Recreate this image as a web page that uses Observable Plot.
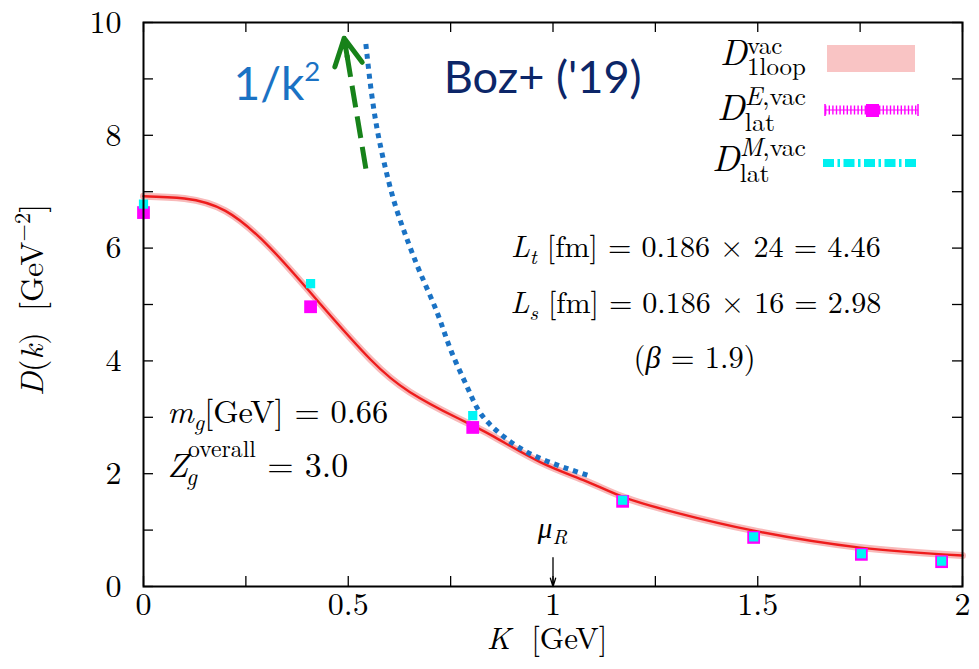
<!DOCTYPE html>
<html><head><meta charset="utf-8">
<script src="https://cdn.jsdelivr.net/npm/d3@7"></script>
<script src="https://cdn.jsdelivr.net/npm/@observablehq/plot@0.6"></script>
<style>
html,body{margin:0;padding:0;background:#fff;}
#chart{position:relative;width:979px;height:669px;}
#chart svg text{white-space:pre;font-family:'Latin Modern Roman','Liberation Serif',serif !important;}
#chart svg text.greek{font-family:'Liberation Serif',serif !important;}
#chart svg text.sans{font-family:'Lato','Open Sans',sans-serif !important;}
</style></head><body><div id="chart"></div>
<script>
// ---- data ----
const kTickLabels = [0, 0.5, 1, 1.5, 2];
const kTicks = [0, 0.25, 0.5, 0.75, 1, 1.25, 1.5, 1.75, 2];
const dTickLabels = [0, 2, 4, 6, 8, 10];
const dTicks = [0, 1, 2, 3, 4, 5, 6, 7, 8, 9, 10];

// lattice data (E = magenta, M = cyan)
const latK = [0.0, 0.408, 0.804, 1.17, 1.49, 1.753, 1.949];
const latE = [6.63, 4.96, 2.82, 1.51, 0.87, 0.57, 0.44];
const latEerr = [0.14, 0.05, 0.05, 0.03, 0.03, 0.02, 0.02];
const latM = [6.78, 5.37, 3.03, 1.53, 0.88, 0.58, 0.45];

// one-loop curve (red, with pink band)
const loopK = [0, 0.1, 0.2, 0.31, 0.433, 0.555, 0.65, 0.763, 0.85, 0.97, 1.08, 1.174, 1.3, 1.49, 1.75, 2.0];
const loopD = [6.92, 6.88, 6.66, 6.0, 5.0, 4.02, 3.45, 3.0, 2.68, 2.2, 1.87, 1.58, 1.31, 0.99, 0.69, 0.55];

// 1/k^2 dotted guide
const invK = [0.543, 0.555, 0.571, 0.592, 0.616, 0.645, 0.677, 0.718, 0.751, 0.791, 0.824, 0.881, 0.963, 1.085];
const invD = [9.62, 8.85, 8.09, 7.38, 6.73, 6.13, 5.54, 4.84, 4.18, 3.53, 3.06, 2.65, 2.29, 1.97];

// green dashed arrow (tail -> tip)
const arrowK = [0.543, 0.49];
const arrowD = [7.41, 9.72];

// renormalisation point marker
const muRK = [1.0];
const muRD = [0.51, 0.0];

// ---- build tables ----
const lat = latK.map((k, i) => ({k, e: latE[i], m: latM[i], lo: latE[i] - latEerr[i], hi: latE[i] + latEerr[i]}));
const loop = loopK.map((k, i) => ({k, d: loopD[i]}));
const inv = invK.map((k, i) => ({k, d: invD[i]}));
const greenArrow = [{x1: arrowK[0], y1: arrowD[0], x2: arrowK[1], y2: arrowD[1]}];
const muArrow = muRK.map(k => ({x1: k, y1: muRD[0], x2: k, y2: muRD[1]}));

const W = 979, H = 669, mL = 143, mR = 17, mT = 22, mB = 83;
const innerW = W - mL - mR, innerH = H - mT - mB;
const tickLen = 10;
const serif = "'Latin Modern Roman', 'Liberation Serif', serif";

const plot = Plot.plot({
  width: W, height: H,
  marginLeft: mL, marginRight: mR, marginTop: mT, marginBottom: mB,
  x: {domain: [0, 2], axis: null},
  y: {domain: [0, 10], axis: null},
  style: {fontFamily: serif, fontSize: "32px", background: "white", color: "black"},
  marks: [
    Plot.line(loop, {x: "k", y: "d", stroke: "#f8b9b9", strokeWidth: 7, curve: "natural"}),
    Plot.line(loop, {x: "k", y: "d", stroke: "#ee1c1c", strokeWidth: 2.4, curve: "natural"}),
    Plot.line(inv, {x: "k", y: "d", stroke: "#1a72c4", strokeWidth: 5, strokeDasharray: "5,5", strokeLinecap: "butt", curve: "natural"}),
    Plot.ruleX(lat, {x: "k", y1: "lo", y2: "hi", stroke: "#ff00ff", strokeWidth: 1.5}),
    Plot.dot(lat, {x: "k", y: "e", symbol: "square", r: 7.2, fill: "#ff00ff", stroke: "none"}),
    Plot.dot(lat, {x: "k", y: "m", symbol: "square", r: 5.2, fill: "#00f5f5", stroke: "none"}),
    Plot.link(greenArrow, {x1: "x1", y1: "y1", x2: "x2", y2: "y2", stroke: "#17821a", strokeWidth: 5, strokeDasharray: "22,9", strokeLinecap: "butt", insetEnd: 8}),
    Plot.arrow(greenArrow, {x1: "x1", y1: "y1", x2: "x2", y2: "y2", stroke: "#17821a", strokeWidth: 5, headLength: 9, headAngle: 55, insetStart: 112}),
    Plot.arrow(muArrow, {x1: "x1", y1: "y1", x2: "x2", y2: "y2", stroke: "black", strokeWidth: 1.3, headLength: 10, headAngle: 35}),
    Plot.tickX(kTicks, {x: d => d, insetTop: innerH - tickLen, stroke: "black", strokeWidth: 1.3}),
    Plot.tickX(kTicks, {x: d => d, insetBottom: innerH - tickLen, stroke: "black", strokeWidth: 1.3}),
    Plot.tickY(dTicks, {y: d => d, insetRight: innerW - tickLen, stroke: "black", strokeWidth: 1.3}),
    Plot.tickY(dTicks, {y: d => d, insetLeft: innerW - tickLen, stroke: "black", strokeWidth: 1.3}),
    Plot.frame({stroke: "black", strokeWidth: 2}),
    Plot.axisX(kTickLabels, {tickSize: 0, tickPadding: 6, fontSize: 32, fontFamily: serif, tickFormat: d => String(d), label: null}),
    Plot.axisY(dTickLabels, {tickSize: 0, tickPadding: 22, fontSize: 32, fontFamily: serif, tickFormat: d => String(d), label: null})
  ]
});
document.getElementById("chart").appendChild(plot);

// ---- math-style text helper (italic/roman pieces, sub/superscripts) ----
const sx = plot.scale("x"), sy = plot.scale("y");
const svg = d3.select(plot);
function piece(g, x, dy, parts, size, italic, cls, fill) {
  const list = typeof parts === "string" ? [[parts, italic, cls]] : parts;
  let w = 0;
  for (const [t, it, c] of list) {
    const el = g.append("text")
      .attr("class", c || cls || null)
      .attr("x", x + w).attr("y", dy)
      .attr("text-anchor", "start")
      .style("text-anchor", "start")
      .style("font-size", size + "px")
      .style("font-style", it ? "italic" : "normal")
      .attr("fill", fill).text(t);
    w += el.node().getComputedTextLength();
  }
  return w;
}
function layout(spec, size) {
  const fill = spec.fill || "black", cls = spec.cls;
  const g = svg.append("g").attr("text-anchor", "start");
  const inner = g.append("g");
  let cur = 0;
  for (const p of spec.pieces) {
    if (p.sup !== undefined || p.sub !== undefined) {
      const s = size * (p.scale || 0.7);
      let w = 0;
      if (p.sup !== undefined) w = Math.max(w, piece(inner, cur, -size * (p.up ?? 0.38), p.sup, s, !!p.supIt, cls, fill));
      if (p.sub !== undefined) w = Math.max(w, piece(inner, cur + (p.subDx || 0), size * (p.down ?? 0.28), p.sub, s, !!p.subIt, cls, fill) + (p.subDx || 0));
      cur += w;
    } else {
      cur += piece(inner, cur, 0, p.t, size * (p.scale || 1), !!p.it, p.cls || cls, fill);
    }
  }
  return {g, inner, width: cur};
}
function mathText(spec) {
  let size = spec.size;
  let r = layout(spec, size);
  if (spec.fit) {
    r.g.remove();
    size = size * spec.fit / r.width;
    r = layout(spec, size);
  }
  const shift = spec.anchor === "middle" ? -r.width / 2 : spec.anchor === "end" ? -r.width : 0;
  const px = spec.px !== undefined ? spec.px : sx.apply(spec.x);
  const py = spec.py !== undefined ? spec.py : sy.apply(spec.y);
  r.g.attr("transform", `translate(${px},${py})` + (spec.rotate ? ` rotate(${spec.rotate})` : ""));
  r.inner.attr("transform", `translate(${shift},0)`);
}

// axis titles
mathText({px: 547, py: H - 20, size: 31, anchor: "middle",
  pieces: [{t: "K", it: true}, {t: "  [GeV]"}]});
mathText({px: 43, py: 300, size: 32, anchor: "middle", rotate: -90,
  pieces: [{t: "D", it: true}, {t: "("}, {t: "k", it: true}, {t: ")  [GeV"}, {sup: "−2", up: 0.42}, {t: "]"}]});

// annotations
mathText({x: 1.35, y: 5.83, size: 29, fit: 370, anchor: "middle",
  pieces: [{t: "L", it: true}, {sub: "t", subIt: true, down: 0.22}, {t: " [fm] = 0.186 × 24 = 4.46"}]});
mathText({x: 1.35, y: 4.84, size: 29, fit: 371, anchor: "middle",
  pieces: [{t: "L", it: true}, {sub: "s", subIt: true, down: 0.22}, {t: " [fm] = 0.186 × 16 = 2.98"}]});
mathText({x: 1.347, y: 3.87, size: 29, fit: 122, anchor: "middle",
  pieces: [{t: "("}, {t: "β", it: true, cls: "greek"}, {t: " = 1.9)"}]});
mathText({x: 0.059, y: 2.89, size: 29, fit: 221, anchor: "start",
  pieces: [{t: "m", it: true}, {sub: "g", subIt: true, down: 0.2}, {t: "[GeV] = 0.66"}]});
mathText({x: 0.059, y: 1.93, size: 29, fit: 181, anchor: "start",
  pieces: [{t: "Z", it: true}, {sup: "overall", up: 0.6, sub: "g", subIt: true, down: 0.22, subDx: -2}, {t: " = 3.0"}]});
mathText({x: muRK[0], y: 0.85, size: 29, anchor: "middle",
  pieces: [{t: "μ", it: true, cls: "greek"}, {sub: "R", subIt: true, down: 0.22}]});

// coloured slide labels
mathText({x: 0.327, y: 8.62, size: 46, anchor: "middle", cls: "sans", fill: "#1a72c4",
  pieces: [{t: "1/k"}, {sup: "2", up: 0.4, scale: 0.6}]});
mathText({x: 0.976, y: 8.74, size: 43, fit: 198, anchor: "middle", cls: "sans", fill: "#0c2668",
  pieces: [{t: "Boz+ ('19)"}]});

// ---- legend (inside top right) ----
const lg = svg.append("g");
lg.append("rect").attr("x", 827).attr("y", 45).attr("width", 88).attr("height", 27).attr("fill", "#f9c4c4");
lg.append("line").attr("x1", 825).attr("x2", 918).attr("y1", 110).attr("y2", 110)
  .attr("stroke", "#ff00ff").attr("stroke-width", 9).attr("stroke-dasharray", "1.4,2.2");
lg.append("line").attr("x1", 825).attr("x2", 918).attr("y1", 110).attr("y2", 110)
  .attr("stroke", "#ff00ff").attr("stroke-width", 1.2);
for (const ex of [825, 918]) {
  lg.append("line").attr("x1", ex).attr("x2", ex).attr("y1", 104).attr("y2", 116).attr("stroke", "#ff00ff").attr("stroke-width", 1.5);
}
lg.append("rect").attr("x", 866).attr("y", 104).attr("width", 13).attr("height", 13).attr("fill", "#ff00ff");
lg.append("line").attr("x1", 823).attr("x2", 919).attr("y1", 163).attr("y2", 163)
  .attr("stroke", "#00f0f0").attr("stroke-width", 8).attr("stroke-dasharray", "11,3.5,2.5,3.5");

mathText({px: 806, py: 65, size: 34, fit: 86, anchor: "end",
  pieces: [{t: "D", it: true}, {sup: "vac", up: 0.32, sub: "1loop", down: 0.27}]});
mathText({px: 806, py: 120, size: 34, fit: 89, anchor: "end",
  pieces: [{t: "D", it: true}, {sup: [["E", true], [",vac", false]], up: 0.4, sub: "lat", down: 0.3}]});
mathText({px: 806, py: 171, size: 34, fit: 94, anchor: "end",
  pieces: [{t: "D", it: true}, {sup: [["M", true], [",vac", false]], up: 0.4, sub: "lat", down: 0.3}]});
</script></body></html>
